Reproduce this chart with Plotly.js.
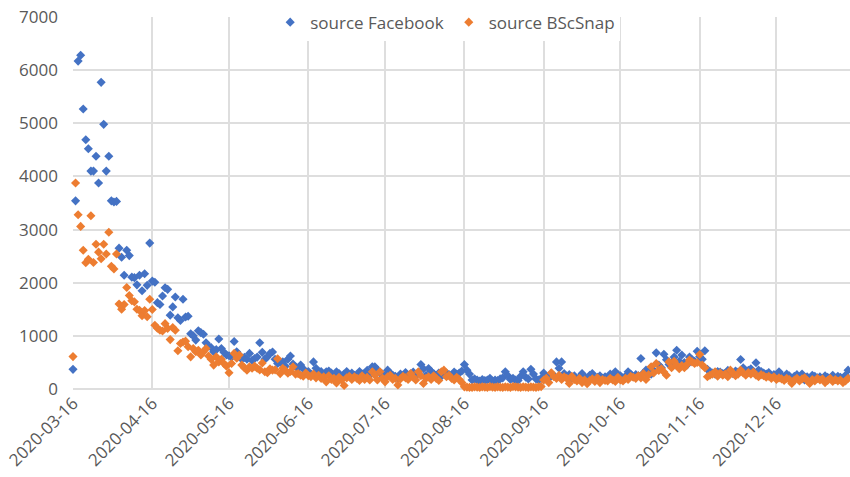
<!DOCTYPE html>
<html>
<head>
<meta charset="utf-8">
<script src="https://cdn.plot.ly/plotly-3.0.1.min.js"></script>
<style>
html,body{margin:0;padding:0;background:#fff;}
#chart{width:850px;height:477px;}
</style>
</head>
<body>
<div id="chart"></div>
<script>
// first day of the daily series
const startDate = '2020-03-16';

const facebook = [
370, 3540, 6170, 6280, 5270, 4690, 4520, 4100, 4100, 4380,
3875, 5770, 4980, 4100, 4380, 3540, 3520, 3530, 2650, 2480,
2140, 2610, 2510, 2105, 2095, 1960, 2140, 1850, 2170, 1950,
2745, 2030, 2010, 1625, 1590, 1750, 1905, 1875, 1390, 1545,
1730, 1340, 1290, 1690, 1355, 1370, 1040, 1000, 920, 1095,
1060, 1030, 870, 810, 780, 700, 740, 940, 760, 690,
640, 625, 600, 895, 700, 640, 560, 595, 560, 670,
540, 575, 600, 870, 690, 560, 605, 670, 695, 560,
480, 500, 510, 430, 560, 620, 470, 420, 390, 450,
380, 300, 330, 280, 510, 390, 300, 330, 260, 325,
340, 300, 250, 325, 290, 230, 280, 330, 250, 300,
260, 240, 330, 280, 300, 350, 260, 420, 420, 360,
300, 280, 240, 355, 300, 260, 240, 200, 280, 250,
310, 260, 280, 320, 250, 300, 460, 380, 260, 385,
330, 290, 250, 300, 240, 325, 300, 270, 250, 320,
280, 300, 340, 460, 355, 280, 170, 190, 170, 150,
180, 160, 170, 200, 150, 170, 160, 190, 210, 325,
250, 180, 200, 170, 160, 240, 325, 220, 190, 370,
280, 190, 170, 200, 300, 240, 200, 290, 250, 510,
390, 510, 290, 230, 270, 200, 250, 180, 220, 290,
220, 200, 260, 290, 180, 220, 250, 200, 230, 200,
280, 260, 325, 270, 250, 210, 240, 325, 280, 230,
270, 250, 575, 300, 355, 320, 280, 350, 680, 450,
400, 655, 550, 460, 500, 600, 730, 520, 640, 500,
450, 600, 550, 520, 710, 610, 560, 720, 370, 330,
300, 280, 330, 320, 290, 300, 350, 310, 290, 340,
320, 555, 400, 300, 350, 380, 330, 495, 355, 330,
300, 280, 310, 250, 270, 240, 325, 260, 230, 280,
250, 200, 240, 270, 220, 280, 170, 230, 200, 260,
240, 210, 230, 190, 250, 220, 200, 260, 180, 240,
220, 200, 260, 355
];

const bscsnap = [
610, 3875, 3280, 3060, 2610, 2375, 2440, 3260, 2380, 2725,
2575, 2450, 2725, 2540, 2950, 2310, 2260, 2540, 1600, 1500,
1590, 1910, 1760, 1660, 1640, 1500, 1480, 1380, 1475, 1360,
1690, 1495, 1200, 1145, 1105, 1090, 1230, 1140, 930, 1155,
1105, 720, 855, 885, 900, 795, 605, 760, 700, 730,
640, 700, 760, 620, 560, 450, 605, 510, 560, 480,
430, 305, 480, 670, 580, 640, 450, 400, 355, 420,
390, 430, 390, 360, 490, 325, 305, 380, 355, 360,
570, 290, 390, 350, 295, 330, 420, 280, 290, 260,
240, 300, 250, 230, 280, 210, 260, 200, 230, 135,
250, 180, 200, 115, 220, 170, 65, 210, 240, 180,
230, 200, 160, 250, 180, 220, 170, 325, 260, 170,
325, 200, 135, 230, 260, 180, 200, 75, 190, 240,
210, 180, 290, 220, 170, 325, 250, 105, 200, 230,
180, 250, 200, 160, 325, 355, 230, 260, 200, 170,
220, 180, 120, 40, 35, 30, 30, 40, 35, 30,
40, 35, 30, 45, 35, 30, 40, 35, 30, 40,
35, 30, 45, 40, 35, 30, 40, 35, 30, 40,
35, 30, 40, 45, 170, 200, 120, 305, 230, 200,
260, 180, 230, 200, 105, 240, 180, 150, 200, 120,
170, 100, 160, 190, 140, 210, 120, 180, 160, 150,
200, 170, 140, 220, 170, 150, 200, 180, 240, 220,
200, 250, 210, 290, 180, 270, 420, 300, 480, 350,
380, 320, 260, 510, 400, 520, 450, 380, 440, 400,
460, 545, 510, 480, 500, 650, 450, 400, 230, 260,
280, 325, 240, 300, 260, 280, 230, 355, 300, 250,
280, 355, 300, 260, 310, 280, 320, 260, 230, 270,
250, 220, 240, 200, 230, 180, 210, 190, 160, 200,
180, 105, 170, 200, 150, 190, 210, 160, 105, 180,
150, 200, 170, 190, 120, 160, 200, 140, 180, 150,
170, 120, 150, 200
];

const tickDates = ['2020-03-16','2020-04-16','2020-05-16','2020-06-16','2020-07-16',
                   '2020-08-16','2020-09-16','2020-10-16','2020-11-16','2020-12-16'];
const tickLabels = ['2020-03-16','2020-04-16','2020-05-16','2020-06-16','2020-07-16',
                    '2020-08-16','2020-09-16','2020-10-16','2020-11-16','2020-12-16'];
const yTicks = [0, 1000, 2000, 3000, 4000, 5000, 6000, 7000];
const seriesNames = ['source Facebook', 'source BScSnap'];

function dayList(n) {
  const out = [];
  const base = new Date(startDate + 'T00:00:00Z');
  for (let i = 0; i < n; i++) {
    const d = new Date(base.getTime() + i * 86400000);
    out.push(d.toISOString().slice(0, 10));
  }
  return out;
}

const xFb = dayList(facebook.length);
const xSn = dayList(bscsnap.length);

const txt = '#595959';
const grid = '#dedede';
const font = 'Open Sans, sans-serif';

const traces = [
  {x: xFb, y: facebook, name: seriesNames[0], type: 'scatter', mode: 'markers',
   cliponaxis: false,
   marker: {symbol: 'diamond', size: 7, color: '#4472C4'}},
  {x: xSn, y: bscsnap, name: seriesNames[1], type: 'scatter', mode: 'markers',
   cliponaxis: false,
   marker: {symbol: 'diamond', size: 7, color: '#ED7D31'}}
];

const layout = {
  width: 850, height: 477,
  margin: {l: 73, r: 0, t: 17, b: 88, pad: 0},
  paper_bgcolor: '#fff', plot_bgcolor: '#fff',
  font: {family: font, size: 17, color: txt},
  showlegend: true,
  legend: {orientation: 'h', x: 0.479, xanchor: 'center', y: 0.985, yanchor: 'middle',
           bgcolor: '#ffffff', font: {family: font, size: 17, color: txt},
           itemwidth: 30, tracegroupgap: 0},
  xaxis: {type: 'date', range: ['2020-03-16', '2021-01-13 18:00'],
          tickmode: 'array', tickvals: tickDates, ticktext: tickLabels,
          tickangle: -45, showgrid: true, gridcolor: grid, gridwidth: 2,
          showline: false, zeroline: false, ticks: '',
          tickfont: {family: font, size: 17, color: txt}},
  yaxis: {range: [0, 7000], tickmode: 'array', tickvals: yTicks,
          showgrid: true, gridcolor: grid, gridwidth: 2,
          zeroline: true, zerolinecolor: grid, zerolinewidth: 2,
          showline: false, ticks: '', ticklabelstandoff: 14,
          tickfont: {family: font, size: 17, color: txt}}
};

Plotly.newPlot('chart', traces, layout, {displayModeBar: false, staticPlot: true});
</script>
</body>
</html>
